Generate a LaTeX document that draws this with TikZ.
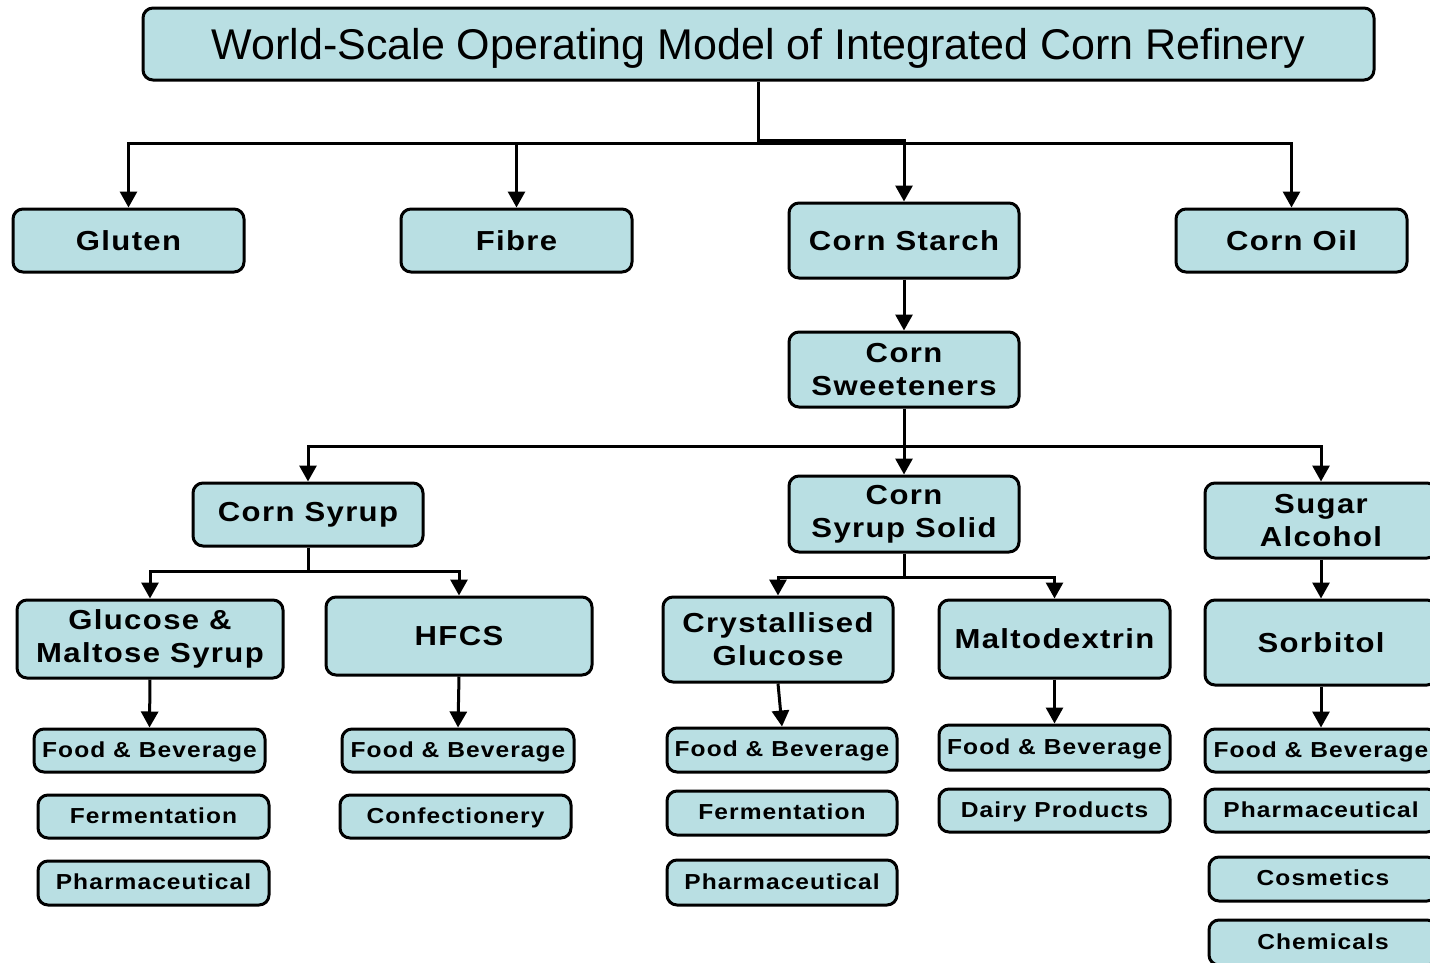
\documentclass[tikz,border=0pt]{standalone}
\usepackage{fontspec}
\setmainfont{Liberation Sans}
\newfontfamily\titlefont{Liberation Sans}
\newfontfamily\lblfont{Liberation Sans Bold}[FakeStretch=1.13,LetterSpace=5]
\usetikzlibrary{arrows.meta}
\definecolor{boxfill}{HTML}{B9DFE3}
\tikzset{
  box/.style={draw=black, fill=boxfill, line width=3pt, rounded corners=10pt,
    inner sep=0pt, align=center, text=black},
  big/.style={box, font=\lblfont\fontsize{27.5}{33}\selectfont},
  small/.style={box, font=\lblfont\fontsize{21.7}{26}\selectfont, text height=16pt, text depth=3pt},
  conn/.style={line width=3pt, draw=black},
  arr/.style={conn, -{Triangle[width=17pt,length=16pt]}},
}
\begin{document}
\begin{tikzpicture}[x=1pt,y=-1pt]
\useasboundingbox (0,0) rectangle (1430,962);
\clip (0,0) rectangle (1430,962);
% title
\node[box, minimum width=1231pt, minimum height=72pt, text height=35pt, text depth=5pt, font=\titlefont\fontsize{43}{50}\selectfont] (title) at (758.5,44) {World-Scale Operating Model of Integrated Corn Refinery};
% level 1
\node[big, minimum width=231pt, minimum height=63pt] (gluten) at (128.5,240.5) {Gluten};
\node[big, minimum width=231pt, minimum height=63pt] (fibre) at (516.5,240.5) {Fibre};
\node[big, minimum width=230pt, minimum height=75pt] (starch) at (904,240.5) {Corn Starch};
\node[big, minimum width=231pt, minimum height=63pt] (oil) at (1291.5,240.5) {Corn Oil};
% level 2
\node[big, minimum width=230pt, minimum height=75pt] (sweet) at (904,369.5) {Corn\\Sweeteners};
% level 3
\node[big, minimum width=230pt, minimum height=63pt] (csyrup) at (308,514.5) {Corn Syrup};
\node[big, minimum width=230pt, minimum height=76pt] (css) at (904,514) {Corn\\Syrup Solid};
\node[big, minimum width=232pt, minimum height=75pt] (sugar) at (1321,520.5) {Sugar\\Alcohol};
% level 4
\node[big, minimum width=266pt, minimum height=78pt] (gms) at (150,639) {Glucose \&\\Maltose Syrup};
\node[big, minimum width=266pt, minimum height=78pt] (hfcs) at (459,636) {HFCS};
\node[big, minimum width=230pt, minimum height=85pt] (cg) at (778,639.5) {Crystallised\\Glucose};
\node[big, minimum width=231pt, minimum height=78pt] (md) at (1054.5,639) {Maltodextrin};
\node[big, minimum width=232pt, minimum height=85pt] (sorb) at (1321,642.5) {Sorbitol};
% applications
\node[small, minimum width=231pt, minimum height=43pt] (fb1) at (149.5,750.5) {Food \& Beverage};
\node[small, minimum width=231pt, minimum height=43pt] (fer1) at (153.5,816.5) {Fermentation};
\node[small, minimum width=231pt, minimum height=44pt] (ph1) at (153.5,883) {Pharmaceutical};
\node[small, minimum width=232pt, minimum height=43pt] (fb2) at (458,750.5) {Food \& Beverage};
\node[small, minimum width=231pt, minimum height=43pt] (conf) at (455.5,816.5) {Confectionery};
\node[small, minimum width=230pt, minimum height=44pt] (fb3) at (782,750) {Food \& Beverage};
\node[small, minimum width=230pt, minimum height=44pt] (fer3) at (782,813) {Fermentation};
\node[small, minimum width=230pt, minimum height=45pt] (ph3) at (782,882.5) {Pharmaceutical};
\node[small, minimum width=231pt, minimum height=45pt] (fb4) at (1054.5,747.5) {Food \& Beverage};
\node[small, minimum width=231pt, minimum height=43pt] (dairy) at (1054.5,810.5) {Dairy Products};
\node[small, minimum width=232pt, minimum height=43pt] (fb5) at (1321,750.5) {Food \& Beverage};
\node[small, minimum width=232pt, minimum height=43pt] (ph5) at (1321,810.5) {Pharmaceutical};
\node[small, minimum width=228pt, minimum height=44pt] (cos) at (1323,879) {Cosmetics};
\node[small, minimum width=228pt, minimum height=45pt] (chem) at (1323,942.5) {Chemicals};
% branch points
\coordinate (b1) at (758,143);
\coordinate (b1s) at (758,140);
\coordinate (b2) at (904,446);
\coordinate (b3) at (308,571);
\coordinate (b4) at (904,577);
% connectors
\draw[conn] (title.south) -- (title.south |- b1);
\draw[arr] (title.south |- b1) -| (gluten.north);
\draw[arr] (title.south |- b1) -| (fibre.north);
\draw[arr] (b1s) -| (starch.north);
\draw[arr] (title.south |- b1) -| (oil.north);
\draw[arr] (starch.south) -- (sweet.north);
\draw[conn] (sweet.south) -- (b2);
\draw[arr] (b2) -| (csyrup.north);
\draw[arr] (b2) -- (css.north);
\draw[arr] (b2) -| (sugar.north);
\draw[conn] (csyrup.south) -- (b3);
\draw[arr] (b3) -| (gms.north);
\draw[arr] (b3) -| (hfcs.north);
\draw[conn] (css.south) -- (b4);
\draw[arr] (b4) -| (cg.north);
\draw[arr] (b4) -| (md.north);
\draw[arr] (sugar.south) -- (sorb.north);
\draw[arr] (gms.south) -- (fb1.north);
\draw[arr] (hfcs.south) -- (fb2.north);
\draw[arr] (cg.south) -- (fb3.north);
\draw[arr] (md.south) -- (fb4.north);
\draw[arr] (sorb.south) -- (fb5.north);
\end{tikzpicture}
\end{document}
